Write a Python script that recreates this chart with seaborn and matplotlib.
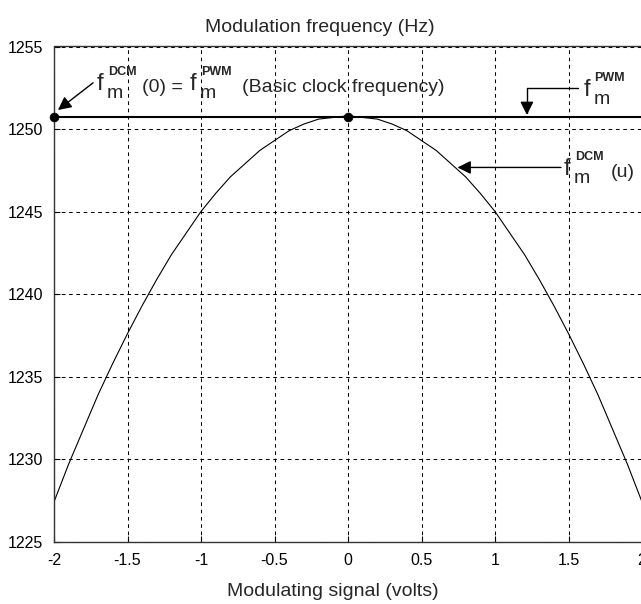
import numpy as np
import pandas as pd
import matplotlib
matplotlib.use("Agg")
import matplotlib.pyplot as plt
import matplotlib.transforms as mtransforms
import seaborn as sns

# values
u = [-2.0, -1.9, -1.8, -1.7, -1.6, -1.5, -1.4, -1.3, -1.2, -1.1, -1.0,
     -0.9, -0.8, -0.7, -0.6, -0.5, -0.4, -0.3, -0.2, -0.1, 0.0,
     0.1, 0.2, 0.3, 0.4, 0.5, 0.6, 0.7, 0.8, 0.9, 1.0,
     1.1, 1.2, 1.3, 1.4, 1.5, 1.6, 1.7, 1.8, 1.9, 2.0]
f_dcm = [1227.4, 1229.7, 1231.8, 1233.9, 1235.8, 1237.6, 1239.3, 1240.9, 1242.4, 1243.7, 1245.0,
         1246.1, 1247.1, 1247.9, 1248.7, 1249.3, 1249.9, 1250.3, 1250.6, 1250.7, 1250.8,
         1250.7, 1250.6, 1250.3, 1249.9, 1249.3, 1248.7, 1247.9, 1247.1, 1246.1, 1245.0,
         1243.7, 1242.4, 1240.9, 1239.3, 1237.6, 1235.8, 1233.9, 1231.8, 1229.7, 1227.4]
f_pwm = 1250.75
marker_u = [-2.0, 0.0]
xticks = [-2, -1.5, -1, -0.5, 0, 0.5, 1, 1.5, 2]
xticklabels = ["-2", "-1.5", "-1", "-0.5", "0", "0.5", "1", "1.5", "2"]
yticks = [1225, 1230, 1235, 1240, 1245, 1250, 1255]

sns.set_style("ticks")
plt.rcParams["font.family"] = ["Liberation Sans", "DejaVu Sans"]

fig = plt.figure(figsize=(6.41, 6.04), dpi=100)
ax = fig.add_axes([54 / 641, 1 - 541.5 / 604, 588 / 641, 495 / 604])

df = pd.DataFrame({"u": u, "f": f_dcm})
sns.lineplot(data=df, x="u", y="f", ax=ax, color="black", lw=0.8)
ax.axhline(f_pwm, color="black", lw=1.5)
sns.scatterplot(x=marker_u, y=[f_pwm] * len(marker_u), ax=ax, color="black",
                s=40, zorder=5, edgecolor="black", clip_on=False)

ax.set_xlim(-2, 2)
ax.set_ylim(1225, 1255)
ax.set_xticks(xticks)
ax.set_xticklabels(xticklabels)
ax.set_yticks(yticks)
ax.tick_params(direction="in", length=4, labelsize=11.5, colors="black")
ax.tick_params(axis="x", pad=8)
ax.tick_params(axis="y", pad=8)
ax.grid(True, color="black", lw=0.75, linestyle=(0, (3.5, 3.5)))
for s in ax.spines.values():
    s.set_color("#333333")
    s.set_linewidth(1)
ax.set_xlabel("")
ax.set_ylabel("")

fig.text(320 / 641, 1 - 27 / 604, "Modulation frequency (Hz)", ha="center",
         va="center", fontsize=14)
fig.text(333 / 641, 1 - 592 / 604, "Modulating signal (volts)", ha="center",
         va="center", fontsize=14)


def piece(x, y, dx, dy, s, size, weight="normal"):
    tr = mtransforms.offset_copy(ax.transData, fig=fig, x=dx, y=dy, units="dots")
    ax.text(x, y, s, transform=tr, fontsize=size, fontweight=weight,
            va="baseline", ha="left")


def fm(x, y, dx, sup):
    # MATLAB style f_m^{sup}
    piece(x, y, dx, 0, "f", 17)
    piece(x, y, dx + 10, -8, "m", 14)
    piece(x, y, dx + 11, 15, sup, 9, "bold")


ap = dict(arrowstyle="-|>", color="black", lw=1, mutation_scale=20,
          shrinkA=0, shrinkB=0)

# left label: f_m^DCM(0) = f_m^PWM(Basic clock frequency)
ax.annotate("", xy=(-1.973, 1251.15), xytext=(-1.734, 1252.8), arrowprops=ap)
lx, ly = -1.707, 1252.35
fm(lx, ly, 0, "DCM")
piece(lx, ly, 45, -2, "(0) =", 14)
fm(lx, ly, 93, "PWM")
piece(lx, ly, 145, -2, "(Basic clock frequency)", 14)

# right label: f_m^PWM
ap2 = dict(ap, connectionstyle="angle,angleA=0,angleB=90,rad=0")
ax.annotate("", xy=(1.217, 1250.85), xytext=(1.565, 1252.5), arrowprops=ap2)
fm(1.6, 1252.0, 0, "PWM")

# right label: f_m^DCM(u)
ax.annotate("", xy=(0.745, 1247.67), xytext=(1.449, 1247.67), arrowprops=ap)
fm(1.47, 1247.2, 0, "DCM")
piece(1.47, 1247.2, 47, -2, "(u)", 14)

fig.savefig("out.png", dpi=100)
